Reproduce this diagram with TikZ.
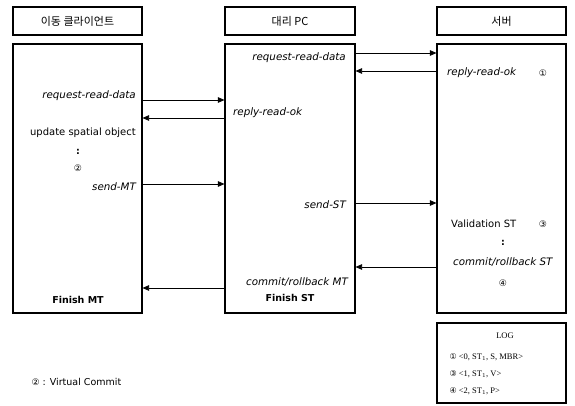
\documentclass[tikz,border=0pt]{standalone}
\usepackage{fontspec}
\setmainfont{DejaVu Sans}
\newfontfamily\kor{Noto Sans CJK KR}
\newfontfamily\serifLog{Liberation Serif}
\newfontfamily\sym{DejaVu Sans}
\usetikzlibrary{arrows.meta}
\begin{document}
\begin{tikzpicture}[x=1pt,y=-1pt,
  box/.style={draw=black,line width=1.1pt,rectangle,inner sep=0pt},
  arr/.style={line width=0.8pt,-{Triangle[length=6.5pt,width=5.5pt]}},
  lab/.style={font=\fontsize{10.3}{12}\selectfont\itshape,inner sep=0pt},
  mlab/.style={font=\fontsize{10}{12}\selectfont,inner sep=0pt},
  blab/.style={font=\fontsize{9.5}{11}\selectfont\bfseries,inner sep=0pt},
  num/.style={font=\fontsize{9}{10}\selectfont\sym,inner sep=0pt},
  hdr/.style={font=\fontsize{11}{12}\selectfont\kor}]
\useasboundingbox (0,0) rectangle (575,406);
% headers
\node[box,minimum width=129pt,minimum height=28pt,hdr] (h1) at (77.5,21) {이동 클라이언트};
\node[box,minimum width=130pt,minimum height=28pt,hdr] (h2) at (290,21) {대리 PC};
\node[box,minimum width=129pt,minimum height=28pt,hdr] (h3) at (501.5,21) {서버};
% main boxes
\node[box,minimum width=129pt,minimum height=269pt] (m1) at (77.5,178.5) {};
\node[box,minimum width=130pt,minimum height=269pt] (m2) at (290,178.5) {};
\node[box,minimum width=129pt,minimum height=269pt] (m3) at (501.5,178.5) {};
% log box
\node[box,minimum width=129pt,minimum height=80pt] (log) at (501.5,363) {};
% levels
\coordinate (y1) at (0,53);
\coordinate (y2) at (0,71);
\coordinate (y3) at (0,100);
\coordinate (y4) at (0,118);
\coordinate (y5) at (0,184);
\coordinate (y6) at (0,203);
\coordinate (y7) at (0,267);
\coordinate (y8) at (0,288);
% arrows
\draw[arr] (m2.east |- y1) -- (m3.west |- y1);
\draw[arr] (m3.west |- y2) -- (m2.east |- y2);
\draw[arr] (m1.east |- y3) -- (m2.west |- y3);
\draw[arr] (m2.west |- y4) -- (m1.east |- y4);
\draw[arr] (m1.east |- y5) -- (m2.west |- y5);
\draw[arr] (m2.east |- y6) -- (m3.west |- y6);
\draw[arr] (m3.west |- y7) -- (m2.east |- y7);
\draw[arr] (m2.west |- y8) -- (m1.east |- y8);
% left texts
\node[lab,anchor=east] (l1) at (136,96) {request-read-data};
\node[mlab,anchor=east] (l2) at (136,133) {update spatial object};
\node[blab] (l3) at (78,152) {:};
\node[num] (l4) at (78,168) {②};
\node[lab,anchor=east] (l5) at (136,187) {send-MT};
\node[blab] (l6) at (78,300) {Finish MT};
% middle texts
\node[lab,anchor=east] (c1) at (346,58) {request-read-data};
\node[lab,anchor=west] (c2) at (233,113) {reply-read-ok};
\node[lab,anchor=east] (c3) at (346,205) {send-ST};
\node[lab,anchor=east] (c4) at (348,282) {commit/rollback MT};
\node[blab] (c5) at (290,298) {Finish ST};
% right texts
\node[lab,anchor=west] (r1) at (447,73) {reply-read-ok};
\node[num] (r1n) at (543,73) {①};
\node[mlab,anchor=west] (r2) at (451,224) {Validation ST};
\node[num] (r2n) at (543,224) {③};
\node[blab] (r3) at (503,243) {:};
\node[lab,anchor=west] (r4) at (453,262) {commit/rollback ST};
\node[num] (r5) at (503,283) {④};
% log texts
\node[font=\fontsize{8.5}{9}\selectfont\serifLog] (g0) at (505,336) {LOG};
\node[font=\fontsize{8.5}{9}\selectfont\serifLog,anchor=west] (g1) at (446,357) {{\sym\fontsize{8}{9}\selectfont ①} <0, ST$_1$, S, MBR>};
\node[font=\fontsize{8.5}{9}\selectfont\serifLog,anchor=west] (g2) at (446,374) {{\sym\fontsize{8}{9}\selectfont ③} <1, ST$_1$, V>};
\node[font=\fontsize{8.5}{9}\selectfont\serifLog,anchor=west] (g3) at (446,391) {{\sym\fontsize{8}{9}\selectfont ④} <2, ST$_1$, P>};
% legend
\node[font=\fontsize{9.5}{10}\selectfont,anchor=west] (leg) at (28,382) {{\sym\fontsize{9}{10}\selectfont ②} : Virtual Commit};
\end{tikzpicture}
\end{document}
